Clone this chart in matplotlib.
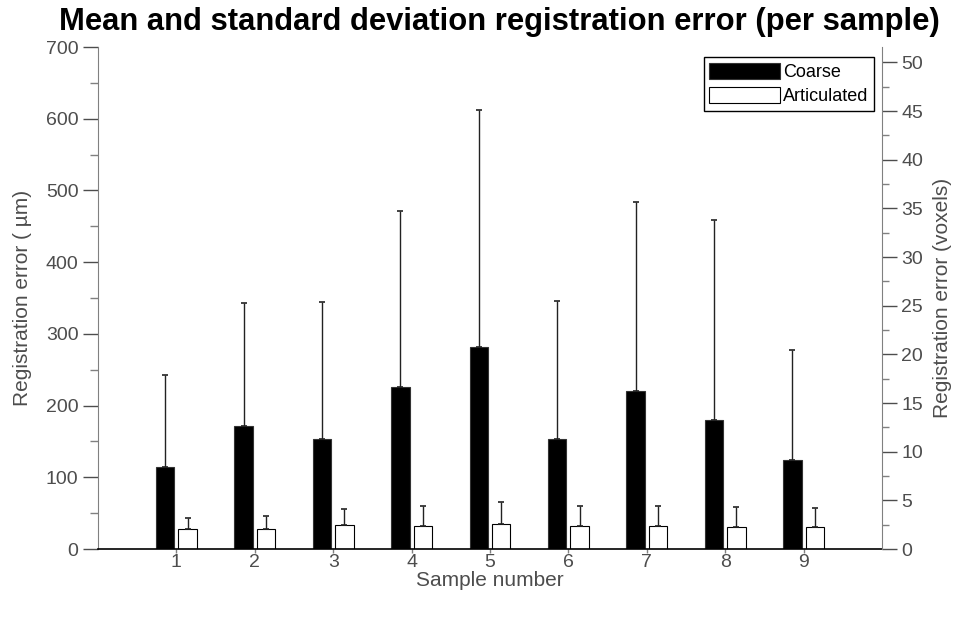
import matplotlib
matplotlib.use("Agg")
import matplotlib.pyplot as plt
import numpy as np
from matplotlib.ticker import MultipleLocator

plt.rcParams['font.family'] = ['Liberation Sans', 'DejaVu Sans']

samples = [1, 2, 3, 4, 5, 6, 7, 8, 9]
coarse_mean = [114, 171, 154, 226, 282, 154, 220, 180, 124]
coarse_std = [128, 172, 191, 245, 330, 192, 264, 279, 153]
artic_mean = [28, 28, 34, 32.5, 34.5, 31.5, 32, 31, 30.5]
artic_std = [15, 18, 22, 27.5, 30.5, 28, 28.5, 27, 26.5]
voxel_size_um = 13.57

gray = '#4d4d4d'
axis_gray = '#808080'

fig = plt.figure(figsize=(9.6, 6.25), dpi=100)
ax = fig.add_axes([0.1021, 0.1216, 0.8167, 0.8032])

x = np.array(samples, dtype=float)
off = 0.143
w = 0.235
ax.bar(x - off, coarse_mean, w, color='black', edgecolor='#333333', linewidth=0.8,
       label='Coarse', zorder=2)
ax.bar(x + off, artic_mean, w, color='white', edgecolor='black', linewidth=0.8,
       label='Articulated', zorder=2)
ax.errorbar(x - off, coarse_mean, yerr=[np.zeros(len(x)), coarse_std], fmt='none',
            ecolor='#222222', elinewidth=1.0, capsize=2.5, capthick=1.2, zorder=3)
ax.errorbar(x + off, artic_mean, yerr=[np.zeros(len(x)), artic_std], fmt='none',
            ecolor='#222222', elinewidth=1.0, capsize=2.5, capthick=1.2, zorder=3)

ax.set_xlim(0, 10)
ax.set_ylim(0, 700)
ax.set_xticks(samples)
ax.yaxis.set_major_locator(MultipleLocator(100))
ax.yaxis.set_minor_locator(MultipleLocator(50))

ax.spines['top'].set_visible(False)
ax.spines['right'].set_visible(False)
ax.spines['left'].set_color(axis_gray)
ax.spines['bottom'].set_color('black')
ax.spines['bottom'].set_linewidth(1.2)

ax.tick_params(axis='y', which='major', direction='out', length=11, width=1,
               color=gray, labelcolor=gray, labelsize=14, pad=3)
ax.tick_params(axis='y', which='minor', direction='out', length=6, width=1, color=axis_gray)
ax.tick_params(axis='x', which='major', direction='out', length=3, width=1,
               color=axis_gray, labelcolor=gray, labelsize=14, pad=0.5)

ax.set_xlabel('Sample number', fontsize=15, color=gray, labelpad=0)
ax.set_ylabel('Registration error ( µm)', fontsize=15, color=gray, labelpad=10)
ax.set_title('Mean and standard deviation registration error (per sample)',
             fontsize=22.3, fontweight='bold', color='black', pad=12, x=0.512)

ax2 = ax.twinx()
ax2.set_ylim(0, 700 / voxel_size_um)
ax2.yaxis.set_major_locator(MultipleLocator(5))
ax2.yaxis.set_minor_locator(MultipleLocator(2.5))
for s in ['top', 'left', 'bottom']:
    ax2.spines[s].set_visible(False)
ax2.spines['right'].set_color(axis_gray)
ax2.tick_params(axis='y', which='major', direction='out', length=11, width=1,
                color=gray, labelcolor=gray, labelsize=14, pad=3)
ax2.tick_params(axis='y', which='minor', direction='out', length=5, width=1, color=axis_gray)
ax2.set_ylabel('Registration error (voxels)', fontsize=15, color=gray, labelpad=7)

leg = ax.legend(loc='upper right', bbox_to_anchor=(0.9945, 0.987), fontsize=13,
                frameon=True, fancybox=False, edgecolor='black', framealpha=1,
                handlelength=3.9, handleheight=1.0, handletextpad=0.2,
                borderpad=0.3, labelspacing=0.35, borderaxespad=0.2)
leg.get_frame().set_linewidth(1.0)
leg.set_zorder(10)
for t in leg.get_texts():
    t.set_color('black')

fig.savefig('out.png', dpi=100)
